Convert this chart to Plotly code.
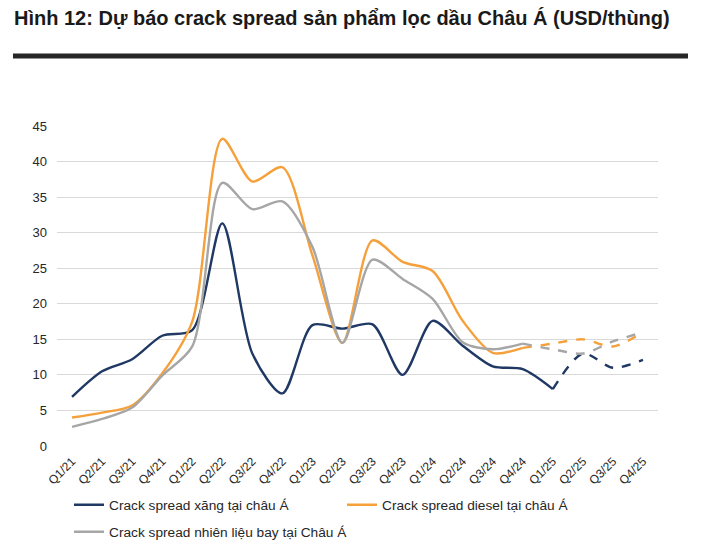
import plotly.graph_objects as go

quarters = ["Q1/21", "Q2/21", "Q3/21", "Q4/21", "Q1/22", "Q2/22", "Q3/22", "Q4/22",
            "Q1/23", "Q2/23", "Q3/23", "Q4/23", "Q1/24", "Q2/24", "Q3/24", "Q4/24",
            "Q1/25", "Q2/25", "Q3/25", "Q4/25"]

gasoline = [6.9, 10.5, 12.2, 15.5, 16.3, 31.3, 13.0, 7.4, 17.0, 16.5,
            17.1, 10.0, 17.6, 14.1, 11.2, 10.8, 8.0, 13.0, 11.0, 12.1]
diesel = [4.0, 4.7, 5.7, 10.2, 17.5, 43.2, 37.2, 39.2, 26.8, 14.5,
          28.9, 25.9, 24.6, 17.6, 13.1, 13.8, 14.4, 15.0, 14.0, 16.0]
jet = [2.7, 3.8, 5.4, 9.9, 14.0, 37.0, 33.3, 34.4, 28.0, 14.5,
       26.2, 23.5, 20.7, 14.6, 13.6, 14.4, 13.6, 13.0, 14.7, 16.0]

names = ["Crack spread xăng tại châu Á", "Crack spread diesel tại châu Á",
         "Crack spread nhiên liệu bay tại Châu Á"]
colors = ["#1f3864", "#f5a03a", "#a6a6a6"]
solid_end = [16, 15, 15]  # index of last actual (non-forecast) point
legend_ids = ["legend", "legend", "legend2"]

FONT = "Liberation Sans, Arial, sans-serif"

# plot area in pixels
L, R, T, B = 57, 658, 126, 445.7
PW, PH = R - L, B - T


def py(px):
    return (B - px) / PH


def pxx(px):
    return (px - L) / PW


fig = go.Figure()
for vals, name, col, se, lg in zip([gasoline, diesel, jet], names, colors, solid_end, legend_ids):
    fig.add_trace(go.Scatter(x=quarters[:se + 1], y=vals[:se + 1], mode="lines", name=name,
                             legend=lg,
                             line=dict(color=col, width=2.4, shape="spline", smoothing=0.8)))
    fig.add_trace(go.Scatter(x=quarters[se:], y=vals[se:], mode="lines", showlegend=False,
                             legend=lg,
                             line=dict(color=col, width=2.4, shape="spline", smoothing=0.8, dash="dash")))

leg_common = dict(orientation="h", xanchor="left", yanchor="top", entrywidthmode="pixels",
                  itemwidth=30, font=dict(size=13.7, color="#262626"), bgcolor="rgba(0,0,0,0)")

fig.update_layout(
    width=724, height=542,
    margin=dict(l=L, r=724 - R, t=T, b=542 - B, autoexpand=False),
    paper_bgcolor="white", plot_bgcolor="white",
    font=dict(family=FONT, color="#262626", size=12),
    xaxis=dict(type="category", categoryorder="array", categoryarray=quarters,
               range=[-0.5, len(quarters) - 0.5], tickangle=-45, showgrid=False, showline=False,
               ticks="", automargin=False, ticklabelstandoff=5, tickfont=dict(size=12, color="#262626")),
    yaxis=dict(range=[0, 45], dtick=5, showgrid=True, gridcolor="#d9d9d9", gridwidth=1,
               zeroline=False, showline=False, ticks="", automargin=False, ticklabelstandoff=9,
               tickfont=dict(size=13, color="#262626")),
    legend=dict(x=pxx(69), y=py(489), entrywidth=228, **leg_common),
    legend2=dict(x=pxx(69), y=py(516), entrywidth=320, **leg_common),
    annotations=[dict(text="<b>Hình 12: Dự báo crack spread sản phẩm lọc dầu Châu Á (USD/thùng)</b>",
                      xref="paper", yref="paper", x=pxx(12), xanchor="left",
                      y=py(18), yanchor="middle", showarrow=False,
                      font=dict(size=20, color="#1a1a1a", family=FONT))],
    shapes=[dict(type="line", xref="paper", yref="paper",
                 x0=pxx(13), x1=pxx(688), y0=py(56), y1=py(56),
                 line=dict(color="#262626", width=5))],
)

fig.write_html("out.html", config={"displayModeBar": False},
               post_script="document.body.style.margin='0';")
